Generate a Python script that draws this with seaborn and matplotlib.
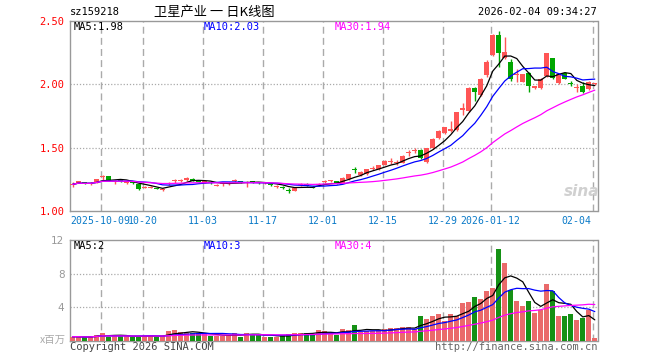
import numpy as np
import pandas as pd
import matplotlib
matplotlib.use("Agg")
import matplotlib.pyplot as plt
import seaborn as sns

# ---------------- data ----------------
opens = [1.205, 1.225, 1.225, 1.215, 1.225, 1.27, 1.278, 1.23, 1.245, 1.225,
         1.23, 1.212, 1.185, 1.185, 1.18, 1.165, 1.215, 1.235, 1.235, 1.245,
         1.255, 1.235, 1.225, 1.225, 1.20, 1.21, 1.21, 1.235, 1.235, 1.22,
         1.23, 1.225, 1.22, 1.21, 1.19, 1.19, 1.165, 1.16, 1.205, 1.215,
         1.19, 1.205, 1.23, 1.235, 1.237, 1.225, 1.25, 1.325, 1.285, 1.29,
         1.33, 1.33, 1.365, 1.385, 1.38, 1.38, 1.455, 1.47, 1.483, 1.385,
         1.494, 1.574, 1.615, 1.63, 1.64, 1.80, 1.786, 1.97, 1.913, 2.07,
         2.23, 2.389, 2.21, 2.175, 2.075, 2.02, 2.09, 1.975, 1.97, 2.063,
         2.206, 2.01, 2.09, 2.01, 1.97, 1.99, 1.96, 2.0]
closes = [1.21, 1.23, 1.215, 1.22, 1.252, 1.28, 1.24, 1.235, 1.24, 1.23,
          1.225, 1.17, 1.19, 1.19, 1.175, 1.17, 1.22, 1.24, 1.24, 1.26,
          1.24, 1.23, 1.23, 1.22, 1.205, 1.215, 1.215, 1.24, 1.23, 1.225,
          1.225, 1.22, 1.225, 1.205, 1.195, 1.185, 1.155, 1.185, 1.21, 1.20,
          1.185, 1.215, 1.235, 1.24, 1.22, 1.26, 1.29, 1.32, 1.31, 1.33,
          1.335, 1.36, 1.397, 1.39, 1.385, 1.437, 1.46, 1.475, 1.415, 1.495,
          1.569, 1.635, 1.66, 1.65, 1.778, 1.81, 1.97, 1.94, 2.042, 2.18,
          2.389, 2.248, 2.256, 2.045, 2.08, 2.08, 1.985, 1.98, 2.04, 2.246,
          2.05, 2.08, 2.045, 2.005, 1.975, 1.94, 2.02, 2.01]
highs = [1.225, 1.24, 1.23, 1.225, 1.255, 1.285, 1.28, 1.245, 1.25, 1.24,
         1.235, 1.215, 1.20, 1.195, 1.185, 1.18, 1.23, 1.25, 1.25, 1.265,
         1.26, 1.24, 1.235, 1.23, 1.21, 1.22, 1.225, 1.25, 1.24, 1.235,
         1.235, 1.23, 1.23, 1.215, 1.205, 1.195, 1.18, 1.19, 1.22, 1.22,
         1.20, 1.22, 1.245, 1.245, 1.24, 1.265, 1.295, 1.345, 1.315, 1.335,
         1.355, 1.365, 1.40, 1.415, 1.405, 1.445, 1.48, 1.495, 1.49, 1.50,
         1.575, 1.64, 1.665, 1.71, 1.785, 1.85, 1.975, 1.975, 2.05, 2.19,
         2.395, 2.42, 2.37, 2.20, 2.12, 2.085, 2.095, 1.985, 2.05, 2.25,
         2.21, 2.085, 2.095, 2.024, 2.0, 2.02, 2.025, 2.012]
lows = [1.19, 1.22, 1.21, 1.205, 1.22, 1.245, 1.235, 1.215, 1.23, 1.215,
        1.215, 1.165, 1.18, 1.18, 1.17, 1.155, 1.205, 1.22, 1.225, 1.24,
        1.235, 1.225, 1.22, 1.215, 1.195, 1.20, 1.205, 1.225, 1.22, 1.19,
        1.22, 1.215, 1.215, 1.195, 1.185, 1.175, 1.145, 1.155, 1.195, 1.195,
        1.18, 1.20, 1.22, 1.225, 1.215, 1.22, 1.245, 1.30, 1.28, 1.285,
        1.32, 1.325, 1.36, 1.37, 1.365, 1.375, 1.435, 1.46, 1.41, 1.375,
        1.49, 1.57, 1.61, 1.625, 1.635, 1.76, 1.78, 1.87, 1.905, 2.06,
        2.22, 2.14, 2.20, 2.03, 2.02, 2.015, 1.94, 1.965, 1.965, 2.06,
        2.04, 2.005, 2.04, 1.99, 1.94, 1.935, 1.955, 1.995]
volumes = [0.51, 0.51, 0.43, 0.51, 0.75, 0.98, 0.51, 0.59, 0.59, 0.59,
           0.51, 0.51, 0.59, 0.75, 0.51, 0.59, 1.18, 1.29, 1.06, 0.98,
           0.98, 0.90, 0.82, 0.59, 0.59, 0.59, 0.75, 0.98, 0.51, 0.98,
           0.82, 0.75, 0.51, 0.51, 0.51, 0.67, 0.82, 0.98, 0.90, 0.98,
           0.82, 1.29, 1.18, 0.90, 0.70, 1.37, 1.30, 1.88, 1.10, 1.20,
           1.20, 1.30, 1.37, 1.50, 1.50, 1.65, 1.65, 1.37, 3.02, 2.59,
           3.02, 3.18, 2.35, 3.18, 3.00, 4.51, 4.63, 5.18, 4.94, 6.00,
           6.30, 10.98, 9.30, 6.08, 4.70, 4.10, 4.70, 3.33, 3.73, 6.75,
           6.00, 2.94, 2.94, 3.18, 2.47, 2.78, 3.73, 0.40]
tick_pos = [5, 12, 22, 32, 42, 52, 62, 70, 87]
tick_labels = ["2025-10-09", "10-20", "11-03", "11-17", "12-01",
               "12-15", "12-29", "2026-01-12", "02-04"]
price_ticks = [1.00, 1.50, 2.00, 2.50]
vol_ticks = [4, 8, 12]

# ---------------- style ----------------
sns.set_style("white")
plt.rcParams["font.family"] = ["DejaVu Sans Mono", "Noto Sans CJK SC"]

RED = "#ff5555"
GREEN = "#00a600"
GRID = "#aaaaaa"
SPINE = "#999999"
MONO = "DejaVu Sans Mono"
CJK = ["Noto Sans CJK SC", "DejaVu Sans"]

n = len(closes)
idx = np.arange(n)
df = pd.DataFrame({"i": idx, "open": opens, "close": closes, "high": highs,
                   "low": lows, "vol": volumes})
df["dir"] = np.where(df["close"] >= df["open"], "up", "down")
for w in (5, 10, 30):
    df[f"ma{w}"] = df["close"].rolling(w, min_periods=1).mean()
    df[f"vma{w}"] = df["vol"].rolling(w, min_periods=1).mean()

W, H = 660, 360
fig = plt.figure(figsize=(W / 100, H / 100), dpi=100)
L, R = 70, 597.5
ax = fig.add_axes([L / W, 1 - 211 / H, (R - L) / W, 190 / H])
axv = fig.add_axes([L / W, 1 - 341 / H, (R - L) / W, 101 / H])

xlim = (-0.42, 87.45)

# ---------------- price panel ----------------
body_lo = np.minimum(df["open"], df["close"])
body_h = np.maximum(np.abs(df["close"] - df["open"]), 0.008)
cols = np.where(df["dir"] == "up", RED, GREEN)
ax.vlines(df["i"], df["low"], df["high"], colors=cols, lw=1.0, zorder=3)
ax.bar(df["i"], body_h, bottom=body_lo, width=0.8, color=cols, lw=0, zorder=4)

for w, c in ((5, "black"), (10, "#0000ff"), (30, "#ff00ff")):
    sns.lineplot(data=df, x="i", y=f"ma{w}", color=c, lw=0.9, ax=ax, zorder=5)

ax.set_xlim(*xlim)
ax.set_ylim(1.0, 2.5)
for y in (1.5, 2.0):
    ax.axhline(y, color=GRID, ls=(0, (1, 1.5)), lw=0.9, zorder=1)
for x in tick_pos:
    ax.axvline(x - 0.33, color=GRID, ls=(0, (5, 3)), lw=1.0, zorder=1)
ax.set_yticks(price_ticks)
ax.set_yticklabels([f"{v:.2f}" for v in price_ticks], color="red",
                   fontsize=7.5, family=MONO)
ax.set_xticks([])
ax.set_xlabel("")
ax.set_ylabel("")
ax.tick_params(axis="y", length=0, pad=4)
for s in ax.spines.values():
    s.set_color(SPINE)
    s.set_linewidth(1.0)

# date labels
for k, (p, lab) in enumerate(zip(tick_pos, tick_labels)):
    if k == 0:
        xx, ha = xlim[0], "left"
    elif k == len(tick_pos) - 1:
        xx, ha = p - 0.5, "right"
    else:
        xx, ha = p - 0.33, "center"
    ax.text(xx, -0.052, lab, transform=ax.get_xaxis_transform(), ha=ha,
            va="center", color="#0a7ac8", fontsize=7.1, family=MONO)

# MA labels (price)
fig.text(74 / W, 1 - 26.5 / H, "MA5:1.98", fontsize=7.5, family=MONO, color="black", va="center")
fig.text(204 / W, 1 - 26.5 / H, "MA10:2.03", fontsize=7.5, family=MONO, color="#0000ff", va="center")
fig.text(335 / W, 1 - 26.5 / H, "MA30:1.94", fontsize=7.5, family=MONO, color="#ff00ff", va="center")

# watermark
fig.text(582 / W, 1 - 192 / H, "sina", fontsize=11, color="#d0d0d0",
         fontweight="bold", style="italic", ha="center", va="center",
         family="DejaVu Sans")

# ---------------- volume panel ----------------
sns.barplot(data=df, x="i", y="vol", hue="dir",
            palette={"up": RED, "down": GREEN}, dodge=False, native_scale=True,
            width=0.8, errorbar=None, legend=False, linewidth=0, ax=axv,
            zorder=3)
for w, c in ((5, "black"), (10, "#0000ff"), (30, "#ff00ff")):
    sns.lineplot(data=df, x="i", y=f"vma{w}", color=c, lw=0.9, ax=axv, zorder=5)
axv.set_xlim(*xlim)
axv.set_ylim(0, 12)
for y in (4, 8):
    axv.axhline(y, color=GRID, ls=(0, (1, 1.5)), lw=0.9, zorder=1)
for x in tick_pos:
    axv.axvline(x - 0.33, color=GRID, ls=(0, (5, 3)), lw=1.0, zorder=1)
axv.set_yticks(vol_ticks)
axv.set_yticklabels([str(v) for v in vol_ticks], color="#999999",
                    fontsize=7.5, family="DejaVu Sans")
axv.set_xticks([])
axv.set_xlabel("")
axv.set_ylabel("")
axv.tick_params(axis="y", length=0, pad=4)
for s in axv.spines.values():
    s.set_color(SPINE)
    s.set_linewidth(1.0)

fig.text(74 / W, 1 - 246 / H, "MA5:2", fontsize=7.5, family=MONO, color="black", va="center")
fig.text(204 / W, 1 - 246 / H, "MA10:3", fontsize=7.5, family=MONO, color="#0000ff", va="center")
fig.text(335 / W, 1 - 246 / H, "MA30:4", fontsize=7.5, family=MONO, color="#ff00ff", va="center")

fig.text(66 / W, 1 - 340 / H, "x百万", fontsize=7.5, family=CJK, color="#aaaaaa",
         ha="right", va="center")

# ---------------- header / footer ----------------
fig.text(70 / W, 1 - 12 / H, "sz159218", fontsize=7.5, family=MONO, color="black", va="center")
fig.text(214 / W, 1 - 12 / H, "卫星产业 一 日K线图", fontsize=9.5, family=CJK,
         color="black", ha="center", va="center")
fig.text(597 / W, 1 - 12 / H, "2026-02-04 09:34:27", fontsize=7.5, family=MONO,
         color="black", ha="right", va="center")
fig.text(70 / W, 1 - 347 / H, "Copyright 2026 SINA.COM", fontsize=7.5, family=MONO,
         color="#444444", va="center")
fig.text(597 / W, 1 - 347 / H, "http://finance.sina.com.cn", fontsize=7.5, family=MONO,
         color="#666666", ha="right", va="center")

fig.savefig("out.png", dpi=100, facecolor="white")
